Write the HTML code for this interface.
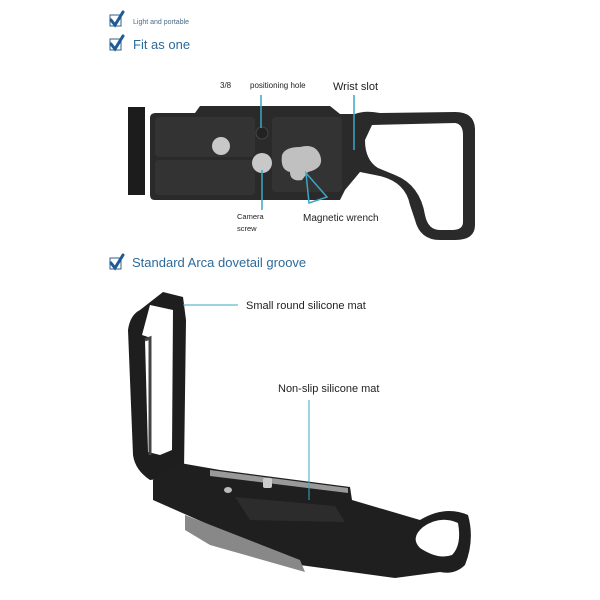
<!DOCTYPE html>
<html><head><style>
html,body{margin:0;padding:0;background:#fff;}
svg{display:block;}
text{font-family:"Liberation Sans",sans-serif;}
</style></head><body>
<svg width="600" height="600" viewBox="0 0 600 600" xmlns="http://www.w3.org/2000/svg">
<rect width="600" height="600" fill="#fff"/>
<!-- checkboxes -->
<g stroke="#2b5f8e" fill="none">
<rect x="110" y="15" width="11" height="11" stroke-width="1"/>
<rect x="110" y="39" width="11" height="11" stroke-width="1"/>
<rect x="110" y="258" width="11" height="11" stroke-width="1"/>
</g>
<g stroke="#1e5a96" fill="none" stroke-width="3" stroke-linecap="round">
<path d="M111 20 L115 25 L123 12"/>
<path d="M111 44 L115 49 L123 36"/>
<path d="M111 263 L115 268 L123 255"/>
</g>
<text x="133" y="24" font-size="7" fill="#4a6a8a">Light and portable</text>
<text x="133" y="49" font-size="13" fill="#2c6a9a">Fit as one</text>
<text x="132" y="267" font-size="13" fill="#2c6a9a">Standard Arca dovetail groove</text>

<!-- top plate -->
<path d="M128 107 L145 107 L145 195 L128 195 Z" fill="#1c1c1c"/>
<path d="M150 118 Q150 113 156 113 L195 113 L200 106 L330 106 L340 114 L355 114 Q365 110 380 113 L455 112 Q475 112 475 130 L475 225 Q475 240 455 240 L440 240 Q420 240 415 220 L410 205 Q405 180 375 175 L360 172 L345 190 L340 200 L155 200 Q150 200 150 195 Z" fill="#2a2a2a"/>
<path d="M372 125 L455 123 Q463 124 463 135 L463 222 Q463 230 452 230 L440 230 Q428 230 425 215 Q420 185 395 175 L378 168 Q365 160 365 140 Z" fill="#fff"/>
<rect x="155" y="117" width="100" height="40" rx="4" fill="#333"/>
<rect x="155" y="160" width="100" height="35" rx="4" fill="#333"/>
<rect x="272" y="117" width="70" height="75" rx="4" fill="#333"/>
<circle cx="221" cy="146" r="9" fill="#c8c8c8"/>
<circle cx="262" cy="163" r="10" fill="#c8c8c8"/>
<circle cx="262" cy="133" r="6" fill="#222" stroke="#444"/>
<path d="M282 155 Q285 147 300 147 Q315 143 320 155 Q325 168 308 172 L302 180 Q290 182 290 172 Q280 170 282 155 Z" fill="#c0c0c0"/>
<!-- top labels -->
<text x="220" y="88" font-size="8" fill="#222">3/8</text>
<text x="250" y="88" font-size="8" fill="#222">positioning hole</text>
<text x="333" y="90" font-size="11" fill="#222">Wrist slot</text>
<text x="237" y="219" font-size="7.5" fill="#222">Camera</text>
<text x="237" y="231" font-size="7.5" fill="#222">screw</text>
<text x="303" y="221" font-size="10" fill="#222">Magnetic wrench</text>
<g stroke="#3aa6c6" stroke-width="1.5" fill="none">
<line x1="261" y1="95" x2="261" y2="128"/>
<line x1="262" y1="170" x2="262" y2="210"/>
<line x1="354" y1="95" x2="354" y2="150"/>
<path d="M306 173 L309 203 L327 197 Z"/>
</g>

<!-- bracket arm -->
<path d="M163 292 L183 297 L186 320 L184 470 L165 478 L150 480 Q135 470 133 455 L128 330 Q130 315 140 310 Z" fill="#1e1e1e"/>
<path d="M150 305 L173 310 L172 450 L160 455 L148 452 L145 340 L148 337 L142 335 Z" fill="#fff"/>
<path d="M145 340 L150 338 L150 455" stroke="#444" fill="none" stroke-width="3"/>
<!-- base -->
<path d="M153 480 L180 463 L220 470 L350 487 L352 500 L420 520 Q445 505 468 515 Q475 540 465 565 Q455 575 440 572 L395 578 L300 565 L153 500 Z" fill="#1f1f1f"/>
<path d="M423 527 Q440 515 458 523 Q462 545 452 555 Q438 560 420 548 Q410 538 423 527 Z" fill="#fff"/>
<path d="M210 470 L348 488 L348 493 L210 476 Z" fill="#999"/>
<path d="M235 497 L335 506 L345 522 L250 520 Z" fill="#2c2c2c"/>
<rect x="263" y="478" width="9" height="10" rx="2" fill="#ccc"/>
<ellipse cx="228" cy="490" rx="4" ry="3" fill="#bbb"/>
<path d="M185 515 L300 560 L305 572 L210 545 L185 530 Z" fill="#888"/>
<!-- bottom labels -->
<text x="246" y="309" font-size="11" fill="#222">Small round silicone mat</text>
<text x="278" y="392" font-size="11" fill="#222">Non-slip silicone mat</text>
<g stroke="#3aa6c6" stroke-width="1" fill="none">
<line x1="183" y1="305" x2="238" y2="305"/>
<line x1="309" y1="400" x2="309" y2="500"/>
</g>
</svg>
</body></html>
